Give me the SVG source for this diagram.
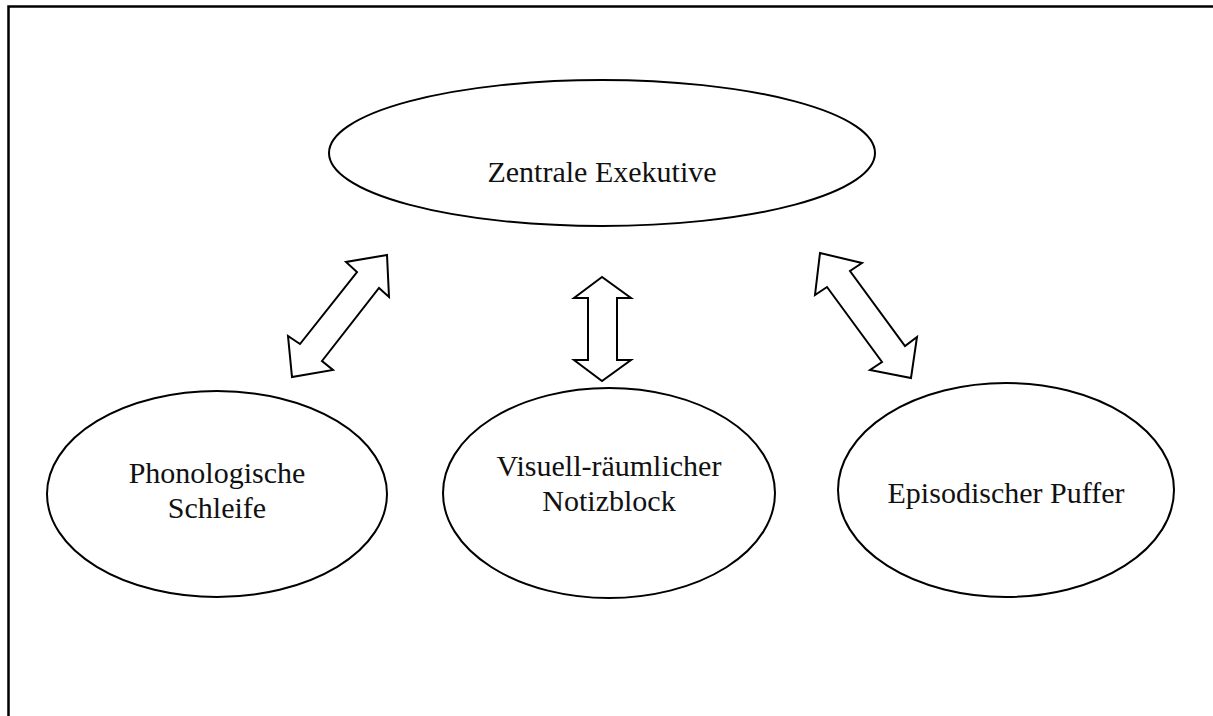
<svg xmlns="http://www.w3.org/2000/svg" width="1213" height="716" viewBox="0 0 1213 716">
<style>
.node ellipse{fill:#fff;stroke:#000;stroke-width:2}
.node text{font-family:"Liberation Serif","Times New Roman",serif;font-size:30px;fill:#111;text-anchor:middle}
.arrow{fill:#fff;stroke:#000;stroke-width:2;stroke-linejoin:miter}
</style>
<rect width="1213" height="716" fill="#fff"/>
<g id="frame"><path d="M8.5 716 V6.5 H1213" fill="none" stroke="#000" stroke-width="2.5"/></g>
<g id="connectors">
<polygon class="arrow" points="387,255 346,262 357,272 300,344 288,336 292,377 333,370 322,361 379,288 389,297"/>
<polygon class="arrow" points="602,277 574,298 588,298 588,360 574,360 602,381 631,360 617,360 617,298 631,298"/>
<polygon class="arrow" points="820,253 862,263 850,271 905,346 917,337 911,378 870,370 882,362 827,287 815,295"/>
</g>
<g id="zentrale" class="node"><ellipse cx="602" cy="153" rx="273" ry="73"/><text x="602" y="182">Zentrale Exekutive</text></g>
<g id="phon" class="node"><ellipse cx="217" cy="494" rx="170" ry="103"/><text x="217" y="483">Phonologische</text><text x="217" y="518">Schleife</text></g>
<g id="visuell" class="node"><ellipse cx="609" cy="493" rx="166" ry="105"/><text x="609" y="476">Visuell-räumlicher</text><text x="609" y="511">Notizblock</text></g>
<g id="episod" class="node"><ellipse cx="1006" cy="490" rx="168" ry="107"/><text x="1006" y="503">Episodischer Puffer</text></g>
</svg>
